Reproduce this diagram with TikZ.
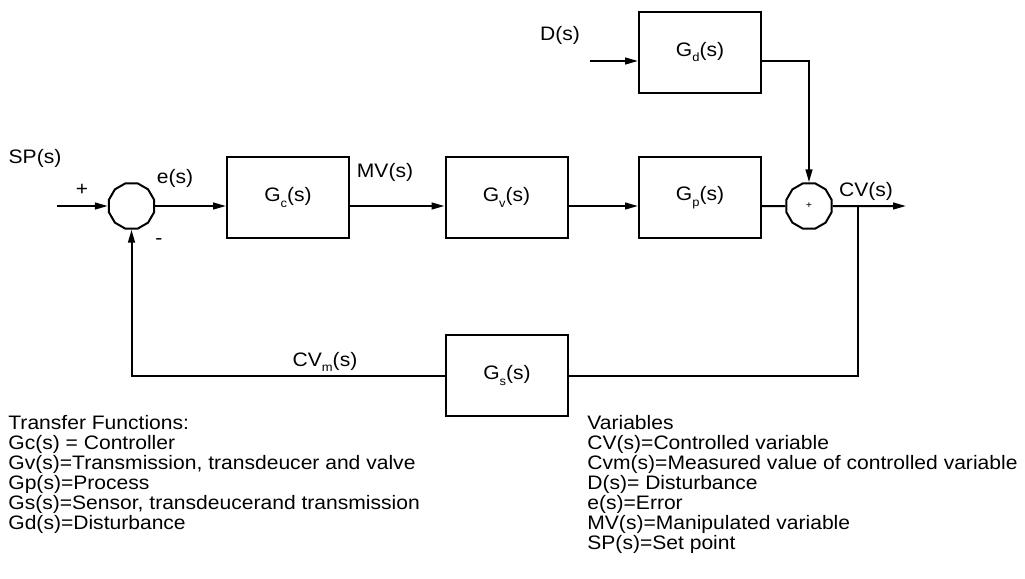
\documentclass[tikz,border=0pt]{standalone}
\usepackage{fontspec}
\setmainfont{Liberation Sans}[FakeStretch=1.08]
\usetikzlibrary{arrows.meta,shapes.geometric,calc}
\newcommand{\lowsub}[1]{\raisebox{-0.55ex}{\fontsize{6}{6}\selectfont #1}}
\tikzset{
  blk/.style={draw,line width=1pt,minimum width=61pt,minimum height=40.5pt,inner sep=0pt},
  sumj/.style={draw,line width=1pt,regular polygon,regular polygon sides=12,minimum size=23.5pt,inner sep=0pt},
  sig/.style={line width=1pt,-{Triangle[length=6.5pt,width=3.4pt]}},
  wire/.style={line width=1pt},
  lab/.style={font=\fontsize{9.75}{10}\selectfont,inner sep=0pt},
  legend/.style={lab,align=left,anchor=north west},
}

\begin{document}
\begin{tikzpicture}[x=0.5pt,y=-0.5pt]
  \useasboundingbox (0,0) rectangle (1025,579);
  % summing junctions
  \node[sumj] (j1) at (131.5,206) {};
  \node[sumj] (j2) at (809,206) {\fontsize{5}{5}\selectfont +};
  % blocks (forward path, disturbance, sensor)
  \node[blk,lab] (gc) at (288,197.5) {G\lowsub{c}(s)};
  \node[blk,lab] (gv) at (506.5,197.5) {G\lowsub{v}(s)};
  \node[blk,lab] (gp) at (700,197.5) {G\lowsub{p}(s)};
  \node[blk,lab] (gd) at (700,52) {G\lowsub{d}(s)};
  \node[blk,lab] (gs) at (507,375.5) {G\lowsub{s}(s)};
  % free ends
  \coordinate (spin) at (57,206);
  \coordinate (din) at (590,61);
  \coordinate (cvout) at (906,206);
  \coordinate (branch) at (858,206);
  % signals
  \draw[sig] (spin) -- (j1);
  \draw[sig] (j1) -- (j1 -| gc.west);
  \draw[sig] (gc.east |- j1) -- (gv.west |- j1);
  \draw[sig] (gv.east |- j1) -- (gp.west |- j1);
  \draw[wire] (gp.east |- j1) -- (j2);
  \draw[sig] (din) -- (din -| gd.west);
  \draw[sig] (gd.east |- din) -| (j2.north);
  \draw[sig] (j2) -- (cvout);
  % feedback
  \draw[wire] (branch) |- (gs.east);
  \draw[sig] (gs.west) -| (j1.south);
  % signal labels
  \node[lab] (sp) at (35,158) {SP(s)};
  \node[lab] (plus) at (82,190) {+};
  \node[lab] (err) at (175,178) {e(s)};
  \node[lab] (minus) at (159,242) {-};
  \node[lab] (mv) at (385,172) {MV(s)};
  \node[lab] (cv) at (866,191) {CV(s)};
  \node[lab] (dist) at (560,35) {D(s)};
  \node[lab] (cvm) at (325,362) {CV\lowsub{m}(s)};
  % legends
  \node[legend] (tf) at (8,415) {Transfer Functions:\\
    Gc(s) = Controller\\
    Gv(s)=Transmission, transdeucer and valve\\
    Gp(s)=Process\\
    Gs(s)=Sensor, transdeucerand transmission\\
    Gd(s)=Disturbance};
  \node[legend] (vars) at (587,415) {Variables\\
    CV(s)=Controlled variable\\
    Cvm(s)=Measured value of controlled variable\\
    D(s)= Disturbance\\
    e(s)=Error\\
    MV(s)=Manipulated variable\\
    SP(s)=Set point};
\end{tikzpicture}
\end{document}
